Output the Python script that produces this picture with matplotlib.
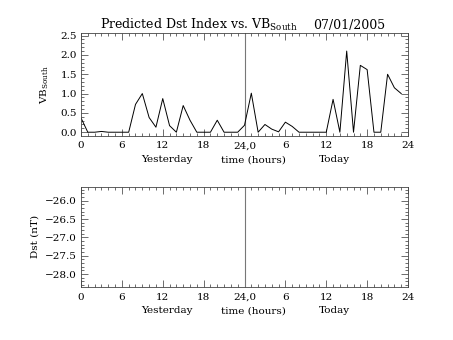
import numpy as np
import matplotlib
matplotlib.use('Agg')
import matplotlib.pyplot as plt
import matplotlib.ticker as ticker

hours = np.arange(48)
vb_south = [0.37, 0.0, 0.0, 0.02, 0.0, 0.0, 0.0, 0.0, 0.72, 1.0, 0.38, 0.13,
            0.87, 0.17, 0.0, 0.69, 0.31, 0.0, 0.0, 0.0, 0.31, 0.0, 0.0, 0.0,
            0.18, 1.01, 0.0, 0.2, 0.08, 0.01, 0.26, 0.15, 0.0, 0.0, 0.0, 0.0,
            0.0, 0.85, 0.0, 2.1, 0.0, 1.73, 1.62, 0.0, 0.0, 1.5, 1.15, 1.0]
xtick_pos = [0, 6, 12, 18, 24, 30, 36, 42, 48]
xtick_labels = ['0', '6', '12', '18', '24,0', '6', '12', '18', '24']
sublabels = [(12.6, 'Yesterday'), (25.3, 'time (hours)'), (37.2, 'Today')]

plt.rcParams['font.family'] = ['DejaVu Serif']
fs = 7.5

def fmt(v, pos):
    return ('%.1f' % v).replace('-', '\u2212')

fig = plt.figure(figsize=(4.53, 3.40), dpi=100)
ax1 = fig.add_axes([0.1788, 0.6009, 0.7219, 0.3012])
ax2 = fig.add_axes([0.1788, 0.1559, 0.7219, 0.2950])

for ax in (ax1, ax2):
    ax.set_xlim(0, 48)
    ax.set_xticks(xtick_pos)
    ax.set_xticklabels(xtick_labels, fontsize=fs)
    ax.xaxis.set_minor_locator(ticker.MultipleLocator(1))
    ax.yaxis.set_major_locator(ticker.MultipleLocator(0.5))
    ax.yaxis.set_minor_locator(ticker.MultipleLocator(0.1))
    ax.yaxis.set_major_formatter(ticker.FuncFormatter(fmt))
    ax.tick_params(which='both', direction='in', top=True, right=True,
                   color='#555555', labelsize=fs, width=0.6)
    ax.tick_params(axis='x', pad=4)
    ax.tick_params(axis='y', pad=3)
    ax.tick_params(which='major', length=5)
    ax.tick_params(which='minor', length=2.5)
    for s in ax.spines.values():
        s.set_linewidth(0.6)
        s.set_color('#444444')
    ax.axvline(24, color='#777777', linewidth=0.8)
    for xpos, txt in sublabels:
        ax.annotate(txt, xy=(xpos, 0), xycoords=('data', 'axes fraction'),
                    xytext=(0, -19), textcoords='offset points',
                    ha='center', va='baseline', fontsize=fs)

ax1.plot(hours, vb_south, color='black', linewidth=0.7)
ax1.set_ylim(-0.09, 2.56)
ax1.set_ylabel('VB$_{\\mathregular{South}}$', fontsize=fs)
ax1.yaxis.set_label_coords(-0.093, 0.5)

ax2.set_ylim(-28.35, -25.62)
ax2.set_ylabel('Dst (nT)', fontsize=fs)
ax2.yaxis.set_label_coords(-0.128, 0.5)

fig.text(100 / 453, 1 - 25 / 340, 'Predicted Dst Index vs. VB$_{\\mathregular{South}}$',
         ha='left', va='center', fontsize=9)
fig.text(385 / 453, 1 - 25 / 340, '07/01/2005', ha='right', va='center', fontsize=9)

fig.savefig('out.png', dpi=100)
